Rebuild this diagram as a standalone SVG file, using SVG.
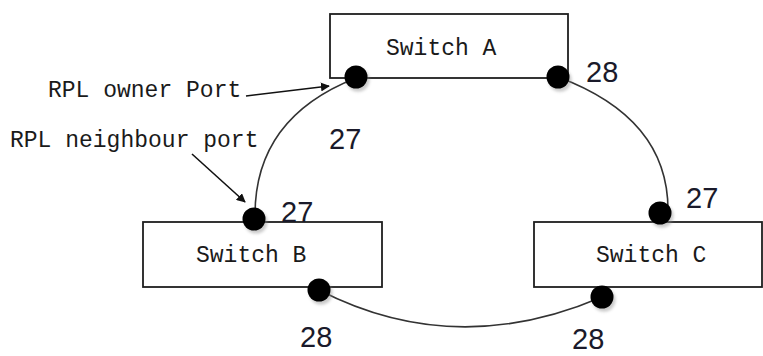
<svg xmlns="http://www.w3.org/2000/svg" width="763" height="356" viewBox="0 0 763 356">
<defs>
<style>
.box{fill:#fff;stroke:#1e1e1e;stroke-width:1.8}
.lbl{font-family:"Liberation Mono",monospace;font-size:23px;fill:#1a1a1a}
.num{font-family:"Liberation Sans",Arial,sans-serif;font-size:29px;fill:#1a1a2a}
.link{fill:none;stroke:#333;stroke-width:1.6}
.arr{fill:none;stroke:#111;stroke-width:1.6;marker-end:url(#ah)}
.dot{fill:#000}
.sh{fill:#888;opacity:0.45;filter:url(#blur)}
</style>
<marker id="ah" viewBox="0 0 10 10" refX="9" refY="5" markerWidth="9" markerHeight="9" markerUnits="userSpaceOnUse" orient="auto">
<path d="M0,0 L10,5 L0,10 z" fill="#111"/>
</marker>
<filter id="blur" x="-50%" y="-50%" width="200%" height="200%"><feGaussianBlur stdDeviation="1.5"/></filter>
</defs>
<rect width="763" height="356" fill="#fff"/>
<g id="connectors">
<path class="link" d="M356,78 C300,100 255,140 255,215"/>
<path class="link" d="M558,77 C620,100 668,140 668,210"/>
<path class="link" d="M319,290 Q455,360 602,297"/>
<path class="arr" d="M246,96 L329,86"/>
<path class="arr" d="M192,154 L245,202"/>
</g>
<g id="switch-a">
<rect class="box" x="330" y="14" width="238" height="64"/>
<text class="lbl" x="386" y="55">Switch A</text>
</g>
<g id="switch-b">
<rect class="box" x="143" y="222" width="239" height="65"/>
<text class="lbl" x="196" y="262">Switch B</text>
</g>
<g id="switch-c">
<rect class="box" x="534" y="222" width="228" height="65"/>
<text class="lbl" x="596" y="262">Switch C</text>
</g>
<g id="ports">
<circle class="sh" cx="358" cy="80" r="11.5"/><circle class="dot" cx="356" cy="77" r="11.5"/>
<circle class="sh" cx="560" cy="80" r="11.5"/><circle class="dot" cx="558" cy="77" r="11.5"/>
<circle class="sh" cx="256" cy="222" r="11.5"/><circle class="dot" cx="254" cy="219" r="11.5"/>
<circle class="sh" cx="321" cy="293" r="11.5"/><circle class="dot" cx="319" cy="290" r="11.5"/>
<circle class="sh" cx="662" cy="216" r="11.5"/><circle class="dot" cx="660" cy="213" r="11.5"/>
<circle class="sh" cx="604" cy="300" r="11.5"/><circle class="dot" cx="602" cy="297" r="11.5"/>
</g>
<g id="labels">
<text class="lbl" x="48" y="97">RPL owner Port</text>
<text class="lbl" x="10" y="147">RPL neighbour port</text>
<text class="num" x="329" y="149">27</text>
<text class="num" x="586" y="82">28</text>
<text class="num" x="686" y="208">27</text>
<text class="num" x="281" y="222">27</text>
<text class="num" x="300" y="347">28</text>
<text class="num" x="572" y="349">28</text>
</g>
</svg>
